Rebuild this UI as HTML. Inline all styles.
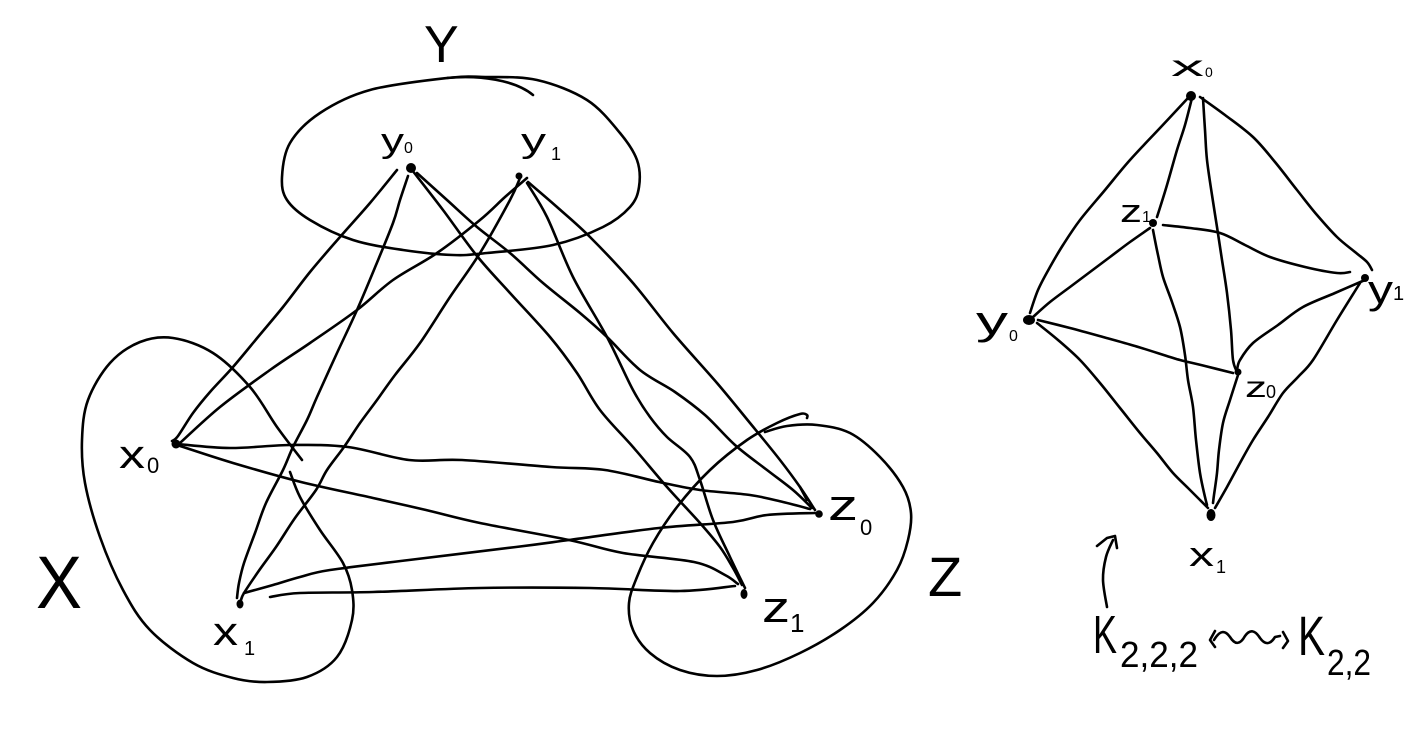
<!DOCTYPE html>
<html>
<head>
<meta charset="utf-8">
<style>
  html, body { margin: 0; padding: 0; background: #ffffff; }
  svg { display: block; }
  text { font-family: "Liberation Sans", "DejaVu Sans", sans-serif; fill: #000; }
</style>
</head>
<body>
<svg width="1410" height="738" viewBox="0 0 1410 738" xmlns="http://www.w3.org/2000/svg">
  <rect width="1410" height="738" fill="#ffffff"/>
  <g fill="none" stroke="#000" stroke-width="2.6" stroke-linecap="round" stroke-linejoin="round">
    <!-- Y ellipse -->
    <path class="s" d="M282,177 L290,143 L320,113 L370,90 L447,78 L487,77 L537,80 L587,100 L620,133 L637,160 L639,187 L630,207 L603,227 L553,245 L487,253 L453,255 L403,250 L353,240 L310,220 L287,200 Z"/>
    <path d="M447,78 C480,75 515,80 533,95"/>
    <!-- X blob -->
    <path class="s" d="M302,460 L277,427 L250,387 L213,353 L173,338 L140,342 L110,363 L88,400 L82,440 L85,483 L100,537 L123,590 L150,630 L193,663 L233,678 L267,682 L307,677 L337,657 L352,620 L352,590 L343,563 L320,530 L300,497 L290,472"/>
    <!-- Z blob -->
    <path class="s" d="M765,432 L787,426 L817,425 L850,433 L880,457 L903,487 L911,513 L908,540 L897,570 L873,603 L840,630 L800,653 L757,670 L717,676 L680,670 L650,653 L633,630 L629,603 L637,577 L653,543 L677,507 L710,470 L747,440 L777,423 L800,414 L807,415 L807,418"/>

    <!-- left graph edges -->
    <path class="s" d="M397,170 L370,203 L340,237 L310,272 L283,307 L258,337 L233,367 L210,392 L193,413 L178,436 L172,441"/>
    <path class="s" d="M408,176 L400,200 L393,223 L376,265 L357,310 L337,353 L317,397 L307,420 L293,447 L283,470 L266,503 L255,533 L244,563 L239,583 L237,598"/>
    <path class="s" d="M527,178 L505,197 L480,220 L437,253 L393,280 L357,310 L310,343 L270,370 L220,407 L180,443"/>
    <path class="s" d="M520,178 L510,200 L480,253 L450,297 L420,343 L395,375 L377,400 L360,423 L344,447 L327,470 L316,490 L295,518 L276,547 L258,572 L244,593 L241,600"/>
    <path class="s" d="M412,170 L443,210 L477,256 L510,293 L550,337 L577,373 L600,410 L633,447 L667,487 L700,523 L720,547 L733,568 L742,585"/>
    <path class="s" d="M417,173 L447,200 L477,227 L510,253 L543,283 L580,313 L607,337 L640,370 L675,392 L705,415 L735,445 L767,470 L793,490 L812,508"/>
    <path class="s" d="M527,183 L547,217 L573,277 L607,337 L633,390 L650,417 L667,437 L690,457 L700,480 L713,520 L730,557 L745,588"/>
    <path class="s" d="M528,182 L557,207 L590,237 L633,283 L673,333 L717,383 L750,423 L780,460 L800,487 L815,510"/>
    <path d="M800,487 L807,500"/>
    <path class="s" d="M178,444 L230,448 L291,445 L348,447 L409,460 L462,460 L551,467 L605,470 L659,482 L700,490 L750,495 L783,502 L810,509"/>
    <path class="s" d="M180,446 L233,463 L301,482 L373,498 L426,510 L480,523 L569,540 L623,553 L694,562 L725,575 L738,584"/>
    <path class="s" d="M244,593 L273,585 L300,577 L330,570 L409,560 L516,547 L569,540 L659,528 L733,522 L767,515 L815,513"/>
    <path class="s" d="M270,597 L300,593 L373,592 L480,588 L590,588 L680,591 L735,586"/>

    <!-- right graph edges -->
    <path class="s" d="M1188,98 L1160,128 L1130,160 L1105,190 L1080,220 L1063,245 L1050,267 L1038,290 L1030,313"/>
    <path class="s" d="M1192,98 L1185,125 L1177,150 L1167,185 L1157,217"/>
    <path class="s" d="M1203,98 L1205,130 L1207,160 L1212,195 L1217,227 L1222,260 L1227,293 L1231,330 L1233,360 L1237,372"/>
    <path class="s" d="M1200,97 L1225,115 L1253,137 L1275,162 L1297,190 L1317,215 L1337,237 L1355,252 L1367,262 L1372,270"/>
    <path class="s" d="M1163,225 L1190,228 L1220,233 L1245,245 L1270,257 L1305,267 L1337,273 L1350,272"/>
    <path class="s" d="M1150,228 L1130,242 L1110,257 L1090,272 L1070,287 L1050,302 L1033,317"/>
    <path class="s" d="M1038,320 L1070,328 L1103,337 L1135,346 L1170,357 L1180,360 L1205,366 L1233,373"/>
    <path class="s" d="M1365,280 L1335,293 L1303,307 L1278,325 L1253,343 L1240,360 L1237,370"/>
    <path class="s" d="M1037,323 L1058,340 L1080,360 L1100,383 L1120,408 L1140,433 L1157,453 L1173,473 L1188,488 L1200,500 L1208,508"/>
    <path class="s" d="M1360,283 L1337,320 L1313,360 L1298,377 L1283,393 L1268,417 L1253,440 L1240,463 L1227,487 L1215,508"/>
    <path class="s" d="M1153,230 L1158,255 L1163,277 L1172,302 L1180,327 L1185,355 L1188,380 L1193,407 L1196,440 L1200,473 L1205,497 L1207,505"/>
    <path class="s" d="M1238,375 L1230,400 L1223,423 L1219,450 L1217,473 L1214,495 L1213,503"/>

    <!-- hook arrow -->
    <path class="s" d="M1107,607 L1103,580 L1106,557 L1113,540"/>
    <path d="M1097,546 L1107,538 L1115,536 L1117,548"/>
    <!-- squiggle double arrow -->
    <path d="M1215,631 L1210,640 L1215,647"/>
    <path d="M1214,640 C1220,630 1225,630 1230,637 C1235,645 1240,645 1245,636 C1250,629 1255,630 1260,638 C1265,645 1270,645 1275,637 L1280,636"/>
    <path d="M1283,632 L1288,641 L1283,648"/>
  </g>

  <!-- nodes -->
  <g fill="#000">
    <circle cx="411" cy="168" r="5"/>
    <circle cx="519" cy="176" r="3.5"/>
    <circle cx="176" cy="444" r="4.5"/>
    <ellipse cx="240" cy="604" rx="3.5" ry="4.5"/>
    <circle cx="819" cy="514" r="3.8"/>
    <ellipse cx="744" cy="594" rx="3.5" ry="5"/>
    <circle cx="1191" cy="96" r="5"/>
    <circle cx="1153" cy="223" r="4"/>
    <circle cx="1365" cy="278" r="4"/>
    <ellipse cx="1029" cy="320" rx="6" ry="5"/>
    <circle cx="1238" cy="372" r="3.5"/>
    <ellipse cx="1211" cy="515" rx="4.5" ry="6"/>
  </g>

  <!-- labels left -->
  <text x="424" y="62" font-size="52">Y</text>
  <text x="381" y="152" font-size="34" textLength="23" lengthAdjust="spacingAndGlyphs">y</text>
  <text x="404" y="153" font-size="16">0</text>
  <text x="521" y="152" font-size="34" textLength="25" lengthAdjust="spacingAndGlyphs">y</text>
  <text x="551" y="160" font-size="18">1</text>
  <text x="119" y="468" font-size="40" textLength="26" lengthAdjust="spacingAndGlyphs">x</text>
  <text x="147" y="473" font-size="22">0</text>
  <text x="213" y="645" font-size="40" textLength="25" lengthAdjust="spacingAndGlyphs">x</text>
  <text x="244" y="655" font-size="20">1</text>
  <text x="36" y="608" font-size="74" textLength="46" lengthAdjust="spacingAndGlyphs">X</text>
  <text x="828" y="520" font-size="44" textLength="30" lengthAdjust="spacingAndGlyphs">z</text>
  <text x="860" y="535" font-size="22">0</text>
  <text x="762" y="622" font-size="44" textLength="28" lengthAdjust="spacingAndGlyphs">z</text>
  <text x="790" y="632" font-size="26">1</text>
  <text x="928" y="596" font-size="56">Z</text>

  <!-- labels right -->
  <text x="1171" y="76" font-size="30" textLength="33" lengthAdjust="spacingAndGlyphs">x</text>
  <text x="1205" y="77" font-size="14">0</text>
  <text x="1120" y="222" font-size="32" textLength="22" lengthAdjust="spacingAndGlyphs">z</text>
  <text x="1142" y="222" font-size="16">1</text>
  <text x="1368" y="303" font-size="40" textLength="25" lengthAdjust="spacingAndGlyphs">y</text>
  <text x="1393" y="300" font-size="20">1</text>
  <text x="976" y="334" font-size="40" textLength="32" lengthAdjust="spacingAndGlyphs">y</text>
  <text x="1009" y="341" font-size="16">0</text>
  <text x="1245" y="397" font-size="30" textLength="22" lengthAdjust="spacingAndGlyphs">z</text>
  <text x="1266" y="398" font-size="18">0</text>
  <text x="1189" y="566" font-size="34" textLength="25" lengthAdjust="spacingAndGlyphs">x</text>
  <text x="1216" y="573" font-size="18">1</text>

  <text x="1093" y="653" font-size="54" textLength="24" lengthAdjust="spacingAndGlyphs">K</text>
  <text x="1120" y="667" font-size="36" textLength="78" lengthAdjust="spacingAndGlyphs">2,2,2</text>
  <text x="1298" y="655" font-size="56" textLength="27" lengthAdjust="spacingAndGlyphs">K</text>
  <text x="1327" y="675" font-size="36" textLength="44" lengthAdjust="spacingAndGlyphs">2,2</text>
</svg>
<script>
(function(){
  try {
    var paths = document.querySelectorAll('path.s');
    for (var k = 0; k < paths.length; k++) {
      var p = paths[k];
      var d = p.getAttribute('d');
      var closed = /Z/i.test(d);
      var n = d.match(/-?\d+(\.\d+)?/g).map(Number);
      var pts = [];
      for (var i = 0; i + 1 < n.length; i += 2) pts.push([n[i], n[i+1]]);
      var m = pts.length;
      if (m < 3) continue;
      var get = function(i){
        if (closed) return pts[(i % m + m) % m];
        return pts[Math.max(0, Math.min(m - 1, i))];
      };
      var out = 'M' + pts[0][0] + ',' + pts[0][1];
      var segs = closed ? m : m - 1;
      for (var s = 0; s < segs; s++) {
        var p0 = get(s - 1), p1 = get(s), p2 = get(s + 1), p3 = get(s + 2);
        var c1x = p1[0] + (p2[0] - p0[0]) / 6, c1y = p1[1] + (p2[1] - p0[1]) / 6;
        var c2x = p2[0] - (p3[0] - p1[0]) / 6, c2y = p2[1] - (p3[1] - p1[1]) / 6;
        out += ' C' + c1x.toFixed(1) + ',' + c1y.toFixed(1) + ' ' + c2x.toFixed(1) + ',' + c2y.toFixed(1) + ' ' + p2[0] + ',' + p2[1];
      }
      if (closed) out += ' Z';
      p.setAttribute('d', out);
    }
  } catch (e) {}
})();
</script>
</body>
</html>
